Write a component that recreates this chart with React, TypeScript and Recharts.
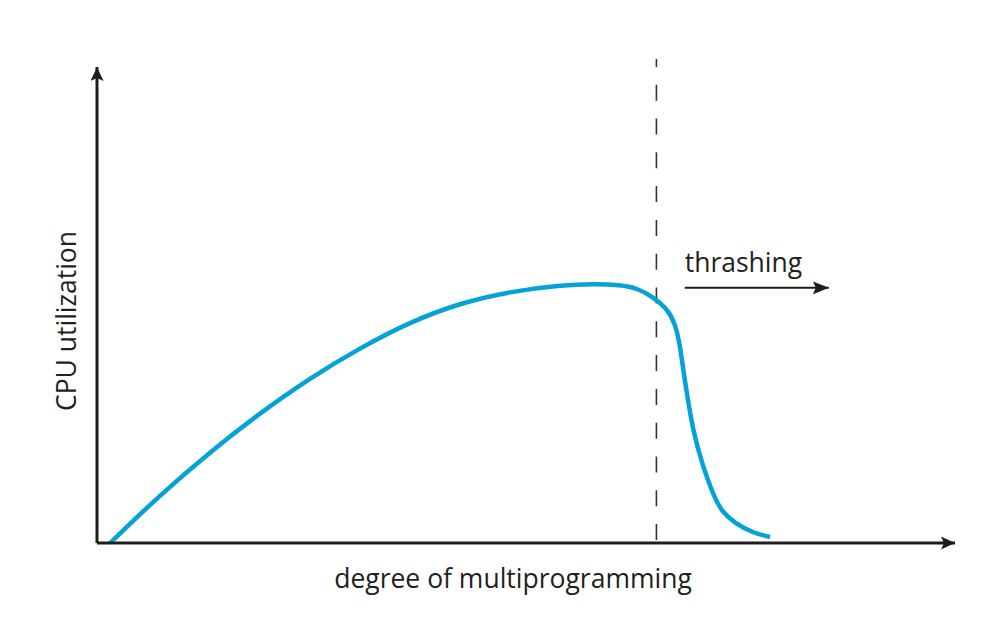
import React from 'react';
import { LineChart, Line, XAxis, YAxis, ReferenceLine, Label } from 'recharts';

// degree of multiprogramming (0-100, arbitrary units)
const degree = [
  1.52, 7.34, 13.17, 19.0, 24.83, 30.65, 36.48, 42.31, 48.14, 53.96, 58.04,
  60.96, 62.94, 64.8, 66.43, 67.37, 67.95, 68.41, 68.88, 69.46, 70.48, 71.91,
  72.96, 74.36, 76.46, 78.44,
];
// CPU utilization (0-100, arbitrary units)
const utilization = [
  0, 10.08, 19.12, 27.31, 34.66, 40.97, 46.43, 50.42, 52.84, 54.16, 54.45,
  54.2, 53.57, 51.68, 49.26, 46.22, 41.6, 35.29, 30.04, 23.74, 16.81, 9.66,
  6.3, 4.2, 2.1, 1.26,
];

const thrashingStart = 65.2; // where the dashed marker sits
const thrashingArrow = { from: 68.5, to: 85.3, level: 53.6 };

const data = degree.map((x, i) => ({ x, y: utilization[i] }));

const INK = '#1d1d1b';
const CURVE = '#03a2d8';
const FONT = '"Open Sans", sans-serif';
const FONT_SIZE = 26.5;

export default function App() {
  return (
    <div style={{ position: 'absolute', left: 0, top: 0, width: 1004, height: 620, background: '#fff' }}>
      <svg width={0} height={0} style={{ position: 'absolute' }}>
        <defs>
          <marker
            id="axisArrow"
            markerUnits="userSpaceOnUse"
            markerWidth={15}
            markerHeight={13}
            refX={14}
            refY={6.5}
            orient="auto-start-reverse"
          >
            <path d="M0,0 L14,6.5 L0,13 L3,6.5 Z" fill={INK} />
          </marker>
          <marker
            id="smallArrow"
            markerUnits="userSpaceOnUse"
            markerWidth={17}
            markerHeight={13}
            refX={16}
            refY={6.5}
            orient="auto"
          >
            <path d="M0,0 L16,6.5 L0,13 L3,6.5 Z" fill={INK} />
          </marker>
        </defs>
      </svg>
      <LineChart
        width={1004}
        height={620}
        data={data}
        margin={{ top: 67, right: 49, bottom: 76, left: 96 }}
      >
        <XAxis
          type="number"
          dataKey="x"
          domain={[0, 100]}
          height={1}
          tick={false}
          tickLine={false}
          axisLine={{ stroke: INK, strokeWidth: 3, markerEnd: 'url(#axisArrow)' }}
        >
          <Label
            content={({ viewBox }: any) => (
              <text
                x={viewBox.x + viewBox.width / 2 - 13}
                y={viewBox.y + 45}
                textAnchor="middle"
                fontFamily={FONT}
                fontSize={FONT_SIZE}
                fill="#231f20"
              >
                degree of multiprogramming
              </text>
            )}
          />
        </XAxis>
        <YAxis
          type="number"
          domain={[0, 100]}
          width={1}
          tick={false}
          tickLine={false}
          axisLine={{ stroke: INK, strokeWidth: 3, markerStart: 'url(#axisArrow)' }}
        >
          <Label
            content={({ viewBox }: any) => {
              const cx = viewBox.x + viewBox.width - 21;
              const cy = viewBox.y + viewBox.height / 2 + 16;
              return (
                <text
                  x={cx}
                  y={cy}
                  transform={`rotate(-90, ${cx}, ${cy})`}
                  textAnchor="middle"
                  fontFamily={FONT}
                  fontSize={FONT_SIZE}
                  fill="#231f20"
                >
                  CPU utilization
                </text>
              );
            }}
          />
        </YAxis>
        <ReferenceLine
          segment={[
            { x: thrashingStart, y: 101.7 },
            { x: thrashingStart, y: 0 },
          ]}
          ifOverflow="visible"
          stroke="#333"
          strokeWidth={1.6}
          strokeDasharray="16 17.8"
          strokeDashoffset={8}
        />
        <ReferenceLine
          segment={[
            { x: thrashingArrow.from, y: thrashingArrow.level },
            { x: thrashingArrow.to, y: thrashingArrow.level },
          ]}
          ifOverflow="visible"
          stroke={INK}
          strokeWidth={2}
          markerEnd="url(#smallArrow)"
        >
          <Label
            content={({ viewBox }: any) => (
              <text
                x={viewBox.x}
                y={viewBox.y - 16}
                textAnchor="start"
                fontFamily={FONT}
                fontSize={FONT_SIZE}
                fill="#231f20"
              >
                thrashing
              </text>
            )}
          />
        </ReferenceLine>
        <Line
          type="basis"
          dataKey="y"
          stroke={CURVE}
          strokeWidth={4.5}
          dot={false}
          activeDot={false}
          isAnimationActive={false}
        />
      </LineChart>
    </div>
  );
}
